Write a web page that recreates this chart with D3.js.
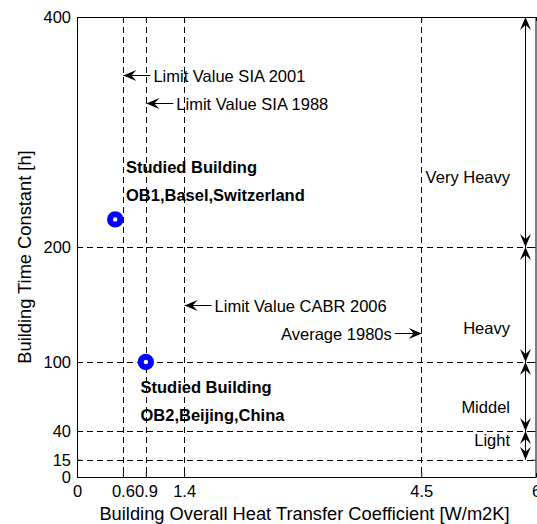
<!DOCTYPE html>
<html>
<head>
<meta charset="utf-8">
<script src="https://cdn.jsdelivr.net/npm/d3@7"></script>
<style>
  body { margin: 0; background: #fff; }
  svg text { font-family: "Liberation Sans", Arial, sans-serif; }
</style>
</head>
<body>
<div id="chart"></div>
<script>
// ticks
const xTicks = [0, 0.6, 0.9, 1.4, 4.5, 6];
const yTicks = [0, 15, 40, 100, 200, 400];

// limit values (vertical dashed lines with arrow labels)
const limitNames = ["Limit Value SIA 2001", "Limit Value SIA 1988", "Limit Value CABR 2006", "Average 1980s"];
const limitU = [0.6, 0.9, 1.4, 4.5];
const limitArrowTau = [350, 325, 150, 125];
const limitSide = ["right", "right", "right", "left"];

// building classes on the right
const classNames = ["Very Heavy", "Heavy", "Middel", "Light"];
const classBounds = [400, 200, 100, 40, 15];
const classLabelTau = [261, 130, 61, 32];

// studied buildings
const buildingNames = ["OB1,Basel,Switzerland", "OB2,Beijing,China"];
const buildingU = [0.5, 0.9];
const buildingTau = [224, 100];
const buildingLabelU = [0.64, 0.83];
const buildingLabelTau = [264, 73];

function render() {
    //dims
    const width = 537, height = 524;
    const margin = ({ top: 17, right: 1, bottom: 47, left: 77 });
    const fs = 16.5;

    const x = d3.scaleLinear().domain([0, 6]).range([margin.left, width - margin.right]);
    const y = d3.scaleLinear().domain([0, 400]).range([height - margin.bottom, margin.top]);

    const svg = d3.select("#chart").append("svg")
        .attr("width", width)
        .attr("height", height)
        .style("display", "block");

    //dashed grid at the tick positions
    const grid = svg.append("g")
        .attr("stroke", "#000")
        .attr("stroke-width", 1)
        .attr("stroke-dasharray", "6,4");

    grid.selectAll("line.v")
        .data(limitU)
        .join("line")
        .attr("x1", d => Math.round(x(d)) + 0.5)
        .attr("x2", d => Math.round(x(d)) + 0.5)
        .attr("y1", y(400))
        .attr("y2", y(0));

    grid.selectAll("line.h")
        .data(yTicks.filter(d => d > 0 && d < 400))
        .join("line")
        .attr("y1", d => Math.round(y(d)) + 0.5)
        .attr("y2", d => Math.round(y(d)) + 0.5)
        .attr("x1", x(0))
        .attr("x2", x(6));

    //axes
    const fmt = d => String(d);
    svg.append("g")
        .attr("transform", `translate(0,${y(0)})`)
        .call(d3.axisBottom(x).tickValues(xTicks).tickFormat(fmt).tickSizeInner(-4).tickSizeOuter(0).tickPadding(8))
        .call(g => g.selectAll("text").attr("font-size", fs).attr("fill", "#000").style("font-family", "Liberation Sans, Arial, sans-serif"));

    svg.append("g")
        .attr("transform", `translate(${x(0)},0)`)
        .call(d3.axisLeft(y).tickValues(yTicks).tickFormat(fmt).tickSizeInner(-4).tickSizeOuter(0).tickPadding(6))
        .call(g => g.selectAll("text").attr("font-size", fs).attr("fill", "#000").style("font-family", "Liberation Sans, Arial, sans-serif"));

    svg.append("g")
        .attr("transform", `translate(0,${y(400)})`)
        .call(d3.axisTop(x).tickValues(xTicks).tickFormat("").tickSizeInner(-4).tickSizeOuter(0));

    svg.append("g")
        .attr("transform", `translate(${x(6) - 0.5},0)`)
        .call(d3.axisRight(y).tickValues(yTicks).tickFormat("").tickSizeInner(-4).tickSizeOuter(0));

    svg.selectAll(".domain").attr("stroke", "#000");

    //axis labels
    svg.append("text")
        .attr("x", (x(0) + x(6)) / 2 - 2)
        .attr("y", 520)
        .attr("text-anchor", "middle")
        .attr("font-size", 18.3)
        .text("Building Overall Heat Transfer Coefficient [W/m2K]");

    svg.append("text")
        .attr("transform", `translate(31,${(y(0) + y(400)) / 2 + 10}) rotate(-90)`)
        .attr("text-anchor", "middle")
        .attr("font-size", 18.3)
        .text("Building Time Constant [h]");

    //arrow helper (pixel space)
    function head(g, tx, ty, ang) {
        const L = 13, W = 11, N = 8;
        const c = Math.cos(ang), s = Math.sin(ang);
        const pt = (a, b) => [tx - a * c + b * s, ty - a * s - b * c];
        const p = [pt(0, 0), pt(L, W / 2), pt(N, 0), pt(L, -W / 2)];
        g.append("path")
            .attr("d", "M" + p.map(q => q.join(",")).join("L") + "Z")
            .attr("fill", "#000");
    }
    function arrow(g, x1, y1, x2, y2, both) {
        g.append("line")
            .attr("x1", x1).attr("y1", y1).attr("x2", x2).attr("y2", y2)
            .attr("stroke", "#000").attr("stroke-width", 1);
        const ang = Math.atan2(y2 - y1, x2 - x1);
        head(g, x2, y2, ang);
        if (both) head(g, x1, y1, ang + Math.PI);
    }

    //limit value arrows + labels
    const ann = svg.append("g");
    limitNames.forEach((name, i) => {
        const tx = x(limitU[i]) + 0.5, ty = Math.round(y(limitArrowTau[i])) + 0.5;
        const len = 27;
        if (limitSide[i] === "right") {
            arrow(ann, tx + len, ty, tx, ty, false);
            ann.append("text")
                .attr("x", tx + len + 3)
                .attr("y", ty + 6)
                .attr("font-size", fs)
                .text(name);
        } else {
            arrow(ann, tx - len, ty, tx, ty, false);
            ann.append("text")
                .attr("x", tx - len - 3)
                .attr("y", ty + 6)
                .attr("text-anchor", "end")
                .attr("font-size", fs)
                .text(name);
        }
    });

    //class double arrows
    const ax = Math.round(x(5.85)) + 0.5;
    classNames.forEach((name, i) => {
        arrow(ann, ax, y(classBounds[i + 1]), ax, y(classBounds[i]), true);
        ann.append("text")
            .attr("x", x(5.66))
            .attr("y", y(classLabelTau[i]) + 6)
            .attr("text-anchor", "end")
            .attr("font-size", fs)
            .text(name);
    });

    //studied buildings
    svg.append("g")
        .selectAll("circle")
        .data(buildingNames)
        .join("circle")
        .attr("cx", (d, i) => x(buildingU[i]))
        .attr("cy", (d, i) => y(buildingTau[i]))
        .attr("r", 5.2)
        .attr("fill", "#fff")
        .attr("stroke", "#0000ff")
        .attr("stroke-width", 6);

    const lab = svg.append("g")
        .attr("font-weight", "bold")
        .attr("font-size", fs);
    buildingNames.forEach((name, i) => {
        const lx = x(buildingLabelU[i]), ly = y(buildingLabelTau[i]);
        lab.append("text").attr("x", lx).attr("y", ly).text("Studied Building");
        lab.append("text").attr("x", lx).attr("y", ly + 28).text(name);
    });
}

render();
</script>
</body>
</html>
